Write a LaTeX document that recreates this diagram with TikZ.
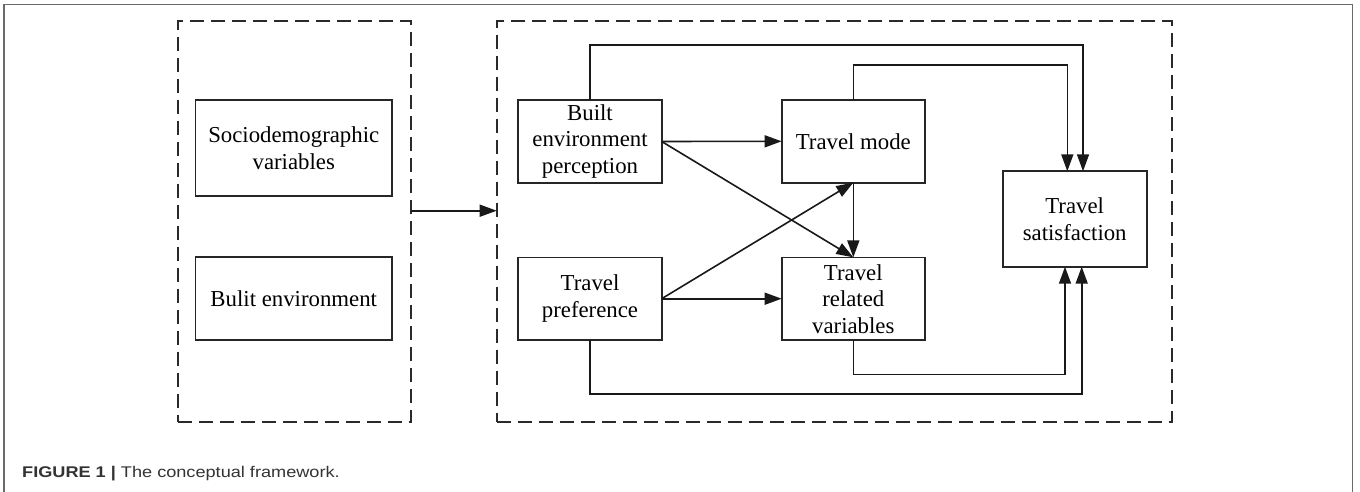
\documentclass[tikz,border=0pt]{standalone}
\usepackage{fontspec}
\usepackage{graphicx}
\setmainfont{Liberation Serif}
\newfontfamily\capfont{Liberation Sans}
\usetikzlibrary{arrows.meta}
\definecolor{framegray}{HTML}{6A6A6A}
\definecolor{dashgray}{HTML}{2A2A2A}
\definecolor{capgray}{HTML}{333333}
\tikzset{
  box/.style={draw=black!85, line width=1.7pt, inner sep=0pt, outer sep=0pt, align=center,
    font=\fontsize{22.8}{26.5}\selectfont},
  dbox/.style={draw=dashgray, line width=1.8pt, dash pattern=on 14pt off 7pt, inner sep=0pt, outer sep=0pt},
  arr/.style={draw=black!90, line width=1.6pt, -{Triangle[length=17pt,width=12pt]}},
}
\begin{document}
\begin{tikzpicture}[x=1pt,y=-1pt]
\useasboundingbox (0,0) rectangle (1360,492);
\fill[white] (0,0) rectangle (1360,492);
% frame
\draw[framegray, line width=1.4pt] (4,492) -- (4,4.5) -- (1352.7,4.5) -- (1352.7,492);
% dashed groups
\node[dbox, minimum width=233pt, minimum height=400.7pt] (leftd) at (294.2,221.7) {};
\node[dbox, minimum width=675pt, minimum height=400.7pt] (rightd) at (834.2,221.7) {};
% boxes
\node[box, minimum width=196.5pt, minimum height=96pt] (socio) at (293.75,148) {Sociodemographic\\variables};
\node[box, minimum width=196.5pt, minimum height=83pt] (bulit) at (293.75,298.8) {Bulit environment};
\node[box, minimum width=143.4pt, minimum height=83pt] (bep) at (590,141.5) {Built\\environment\\perception};
\node[box, minimum width=143.3pt, minimum height=82.7pt] (tm) at (853.3,141.3) {Travel mode};
\node[box, minimum width=143.4pt, minimum height=82.7pt] (tp) at (590,298.7) {Travel\\preference};
\node[box, minimum width=143.3pt, minimum height=82.7pt] (trv) at (853.3,298.7) {Travel\\related\\variables};
\node[box, minimum width=144pt, minimum height=95.4pt] (ts) at (1074.7,219) {Travel\\satisfaction};
% connector between groups
\coordinate (ya) at (0,210.7);
\draw[arr] (leftd.east |- ya) -- (rightd.west |- ya);
% loops to satisfaction
\coordinate (top1) at (0,45);
\coordinate (top2) at (0,65);
\coordinate (bot1) at (0,374.3);
\coordinate (bot2) at (0,394);
\draw[arr] (bep.north) -- (bep.north |- top1) -| ([xshift=8.3pt]ts.north);
\draw[arr] (tm.north) -- (tm.north |- top2) -| ([xshift=-7.4pt]ts.north);
\draw[arr] (trv.south) -- (trv.south |- bot1) -| ([xshift=-9.7pt]ts.south);
\draw[arr] (tp.south) -- (tp.south |- bot2) -| ([xshift=7pt]ts.south);
% inner arrows
\draw[arr] (bep.east) -- (tm.west);
\draw[arr] (bep.east) -- (trv.north);
\draw[arr] (tp.east) -- (tm.south);
\draw[arr] (tp.east) -- (trv.west);
\draw[arr] (tm.south) -- (trv.north);
% caption
\node[anchor=base west, inner sep=0pt, text=capgray] (cap) at (22,477.5)
  {\capfont\fontsize{15.5}{18}\selectfont\scalebox{1.17}[1]{\textbf{FIGURE 1 |} The conceptual framework.}};
\end{tikzpicture}
\end{document}
